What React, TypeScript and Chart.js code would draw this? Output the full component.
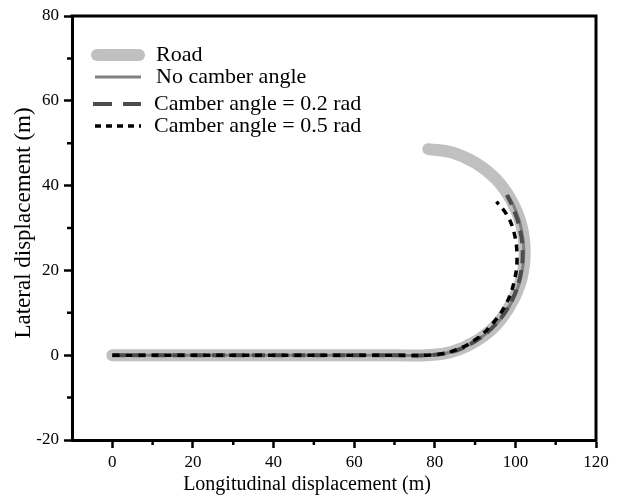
import React, { useEffect, useRef } from "react";
import { Chart, registerables } from "chart.js";

Chart.register(...registerables);

// Road centre line (m)
const roadX = [0, 40, 70, 78, 84.3, 90.2, 95.2, 99.0, 101.5, 102.3, 101.5, 99.0, 95.2, 90.2, 84.3, 78.4];
const roadY = [0, 0, 0, 0, 0.8, 3.3, 7.1, 12.2, 18.0, 24.3, 30.6, 36.5, 41.5, 45.3, 47.8, 48.6];

// Vehicle trajectory without camber
const noCamberX = [0, 40, 70, 78, 84.3, 90.1, 95.1, 98.9, 101.3, 102.1, 101.3, 99.6, 98.2];
const noCamberY = [0, 0, 0, 0, 0.8, 3.3, 7.2, 12.2, 18.1, 24.3, 30.5, 35.2, 37.6];

// Trajectory with camber angle 0.2 rad
const camber02X = [0, 40, 70, 78, 84.3, 90.0, 95.0, 98.8, 101.1, 101.8, 101.0, 99.3, 97.9];
const camber02Y = [0, 0, 0, 0, 0.8, 3.3, 7.2, 12.3, 18.2, 24.3, 30.3, 35.0, 37.8];

// Trajectory with camber angle 0.5 rad
const camber05X = [0, 40, 70, 78, 84.2, 89.8, 94.4, 97.8, 99.8, 100.4, 99.6, 97.7, 95.3];
const camber05Y = [0, 0, 0, 0, 0.9, 3.5, 7.5, 12.3, 17.8, 23.5, 29.2, 33.4, 36.2];

const seriesLabels = ["Road", "No camber angle", "Camber angle = 0.2 rad", "Camber angle = 0.5 rad"];
const seriesColors = ["#c0c0c0", "#808080", "#4d4d4d", "#000000"];

const xTicksMinor = [10, 30, 50, 70, 90, 110];
const yTicksMinor = [-10, 10, 30, 50, 70];

const SERIF = "'Liberation Serif', 'Times New Roman', serif";

const toPoints = (xs: number[], ys: number[]) => xs.map((x, i) => ({ x, y: ys[i] }));

// Frame, minor ticks, axis titles and legend
const decorations = {
  id: "decorations",
  afterDraw(chart: Chart) {
    const { ctx, chartArea } = chart;
    const { left, right, top, bottom } = chartArea;
    const xs = chart.scales.x;
    const ys = chart.scales.y;
    ctx.save();

    // top and right frame lines
    ctx.strokeStyle = "#000";
    ctx.lineWidth = 3;
    ctx.lineCap = "square";
    ctx.beginPath();
    ctx.moveTo(left, top);
    ctx.lineTo(right, top);
    ctx.lineTo(right, bottom);
    ctx.stroke();

    // minor ticks
    ctx.lineCap = "butt";
    ctx.lineWidth = 2.5;
    ctx.beginPath();
    xTicksMinor.forEach((v) => {
      const px = xs.getPixelForValue(v);
      ctx.moveTo(px, bottom);
      ctx.lineTo(px, bottom + 5);
    });
    yTicksMinor.forEach((v) => {
      const py = ys.getPixelForValue(v);
      ctx.moveTo(left, py);
      ctx.lineTo(left - 5, py);
    });
    ctx.stroke();

    // axis titles
    ctx.fillStyle = "#000";
    ctx.textAlign = "center";
    ctx.textBaseline = "alphabetic";
    ctx.font = `20px ${SERIF}`;
    ctx.fillText("Longitudinal displacement (m)", 307, 490);
    ctx.save();
    ctx.translate(30, 223);
    ctx.rotate(-Math.PI / 2);
    ctx.font = `23px ${SERIF}`;
    ctx.fillText("Lateral displacement (m)", 0, 0);
    ctx.restore();

    // legend
    const rowsY = [55, 77, 104, 126];
    const textX = [156, 156, 154, 154];
    const widths = [12, 3, 4, 3.5];
    const dashes: number[][] = [[], [], [19, 11], [6, 5]];
    const x0 = [97, 95, 93, 95];
    const x1 = [139, 141, 141, 141];
    ctx.textAlign = "left";
    ctx.textBaseline = "middle";
    ctx.font = `22px ${SERIF}`;
    seriesLabels.forEach((label, i) => {
      ctx.strokeStyle = seriesColors[i];
      ctx.lineWidth = widths[i];
      ctx.lineCap = i === 0 ? "round" : "butt";
      ctx.setLineDash(dashes[i]);
      ctx.beginPath();
      ctx.moveTo(x0[i], rowsY[i]);
      ctx.lineTo(x1[i], rowsY[i]);
      ctx.stroke();
      ctx.setLineDash([]);
      ctx.fillStyle = "#000";
      ctx.fillText(label, textX[i], rowsY[i]);
    });

    ctx.restore();
  },
};

export default function App() {
  const canvasRef = useRef<HTMLCanvasElement | null>(null);

  useEffect(() => {
    if (!canvasRef.current) return;
    const chart = new Chart(canvasRef.current, {
      type: "line",
      data: {
        datasets: [
          {
            label: seriesLabels[0],
            data: toPoints(roadX, roadY),
            borderColor: seriesColors[0],
            borderWidth: 12,
            borderCapStyle: "round",
            borderJoinStyle: "round",
            tension: 0.4,
            pointRadius: 0,
            order: 4,
          },
          {
            label: seriesLabels[1],
            data: toPoints(noCamberX, noCamberY),
            borderColor: seriesColors[1],
            borderWidth: 3,
            tension: 0.4,
            pointRadius: 0,
            order: 3,
          },
          {
            label: seriesLabels[2],
            data: toPoints(camber02X, camber02Y),
            borderColor: seriesColors[2],
            borderWidth: 4,
            borderDash: [13, 7],
            tension: 0.4,
            pointRadius: 0,
            order: 2,
          },
          {
            label: seriesLabels[3],
            data: toPoints(camber05X, camber05Y),
            borderColor: seriesColors[3],
            borderWidth: 3.5,
            borderDash: [7, 6],
            tension: 0.4,
            pointRadius: 0,
            order: 1,
          },
        ],
      },
      options: {
        responsive: false,
        animation: false,
        layout: { padding: { top: 16, right: 24, left: 0, bottom: 0 } },
        plugins: {
          legend: { display: false },
          tooltip: { enabled: false },
        },
        scales: {
          x: {
            type: "linear",
            min: -10,
            max: 120,
            afterFit: (scale: any) => {
              scale.height = 60;
            },
            ticks: {
              stepSize: 20,
              includeBounds: false,
              padding: 4,
              color: "#000",
              font: { family: SERIF, size: 17 },
              maxRotation: 0,
            },
            grid: {
              drawOnChartArea: false,
              drawTicks: true,
              tickLength: 8,
              tickWidth: 2.5,
              tickColor: "#000",
            },
            border: { display: true, color: "#000", width: 3 },
          },
          y: {
            type: "linear",
            min: -20,
            max: 80,
            afterFit: (scale: any) => {
              scale.width = 72;
            },
            ticks: {
              stepSize: 20,
              padding: 5,
              color: "#000",
              font: { family: SERIF, size: 17 },
            },
            grid: {
              drawOnChartArea: false,
              drawTicks: true,
              tickLength: 8,
              tickWidth: 2.5,
              tickColor: "#000",
            },
            border: { display: true, color: "#000", width: 3 },
          },
        },
      },
      plugins: [decorations],
    });
    return () => chart.destroy();
  }, []);

  return (
    <div style={{ position: "fixed", left: 0, top: 0, width: 620, height: 500, background: "#fff" }}>
      <canvas ref={canvasRef} width={620} height={500} style={{ display: "block" }} />
    </div>
  );
}
